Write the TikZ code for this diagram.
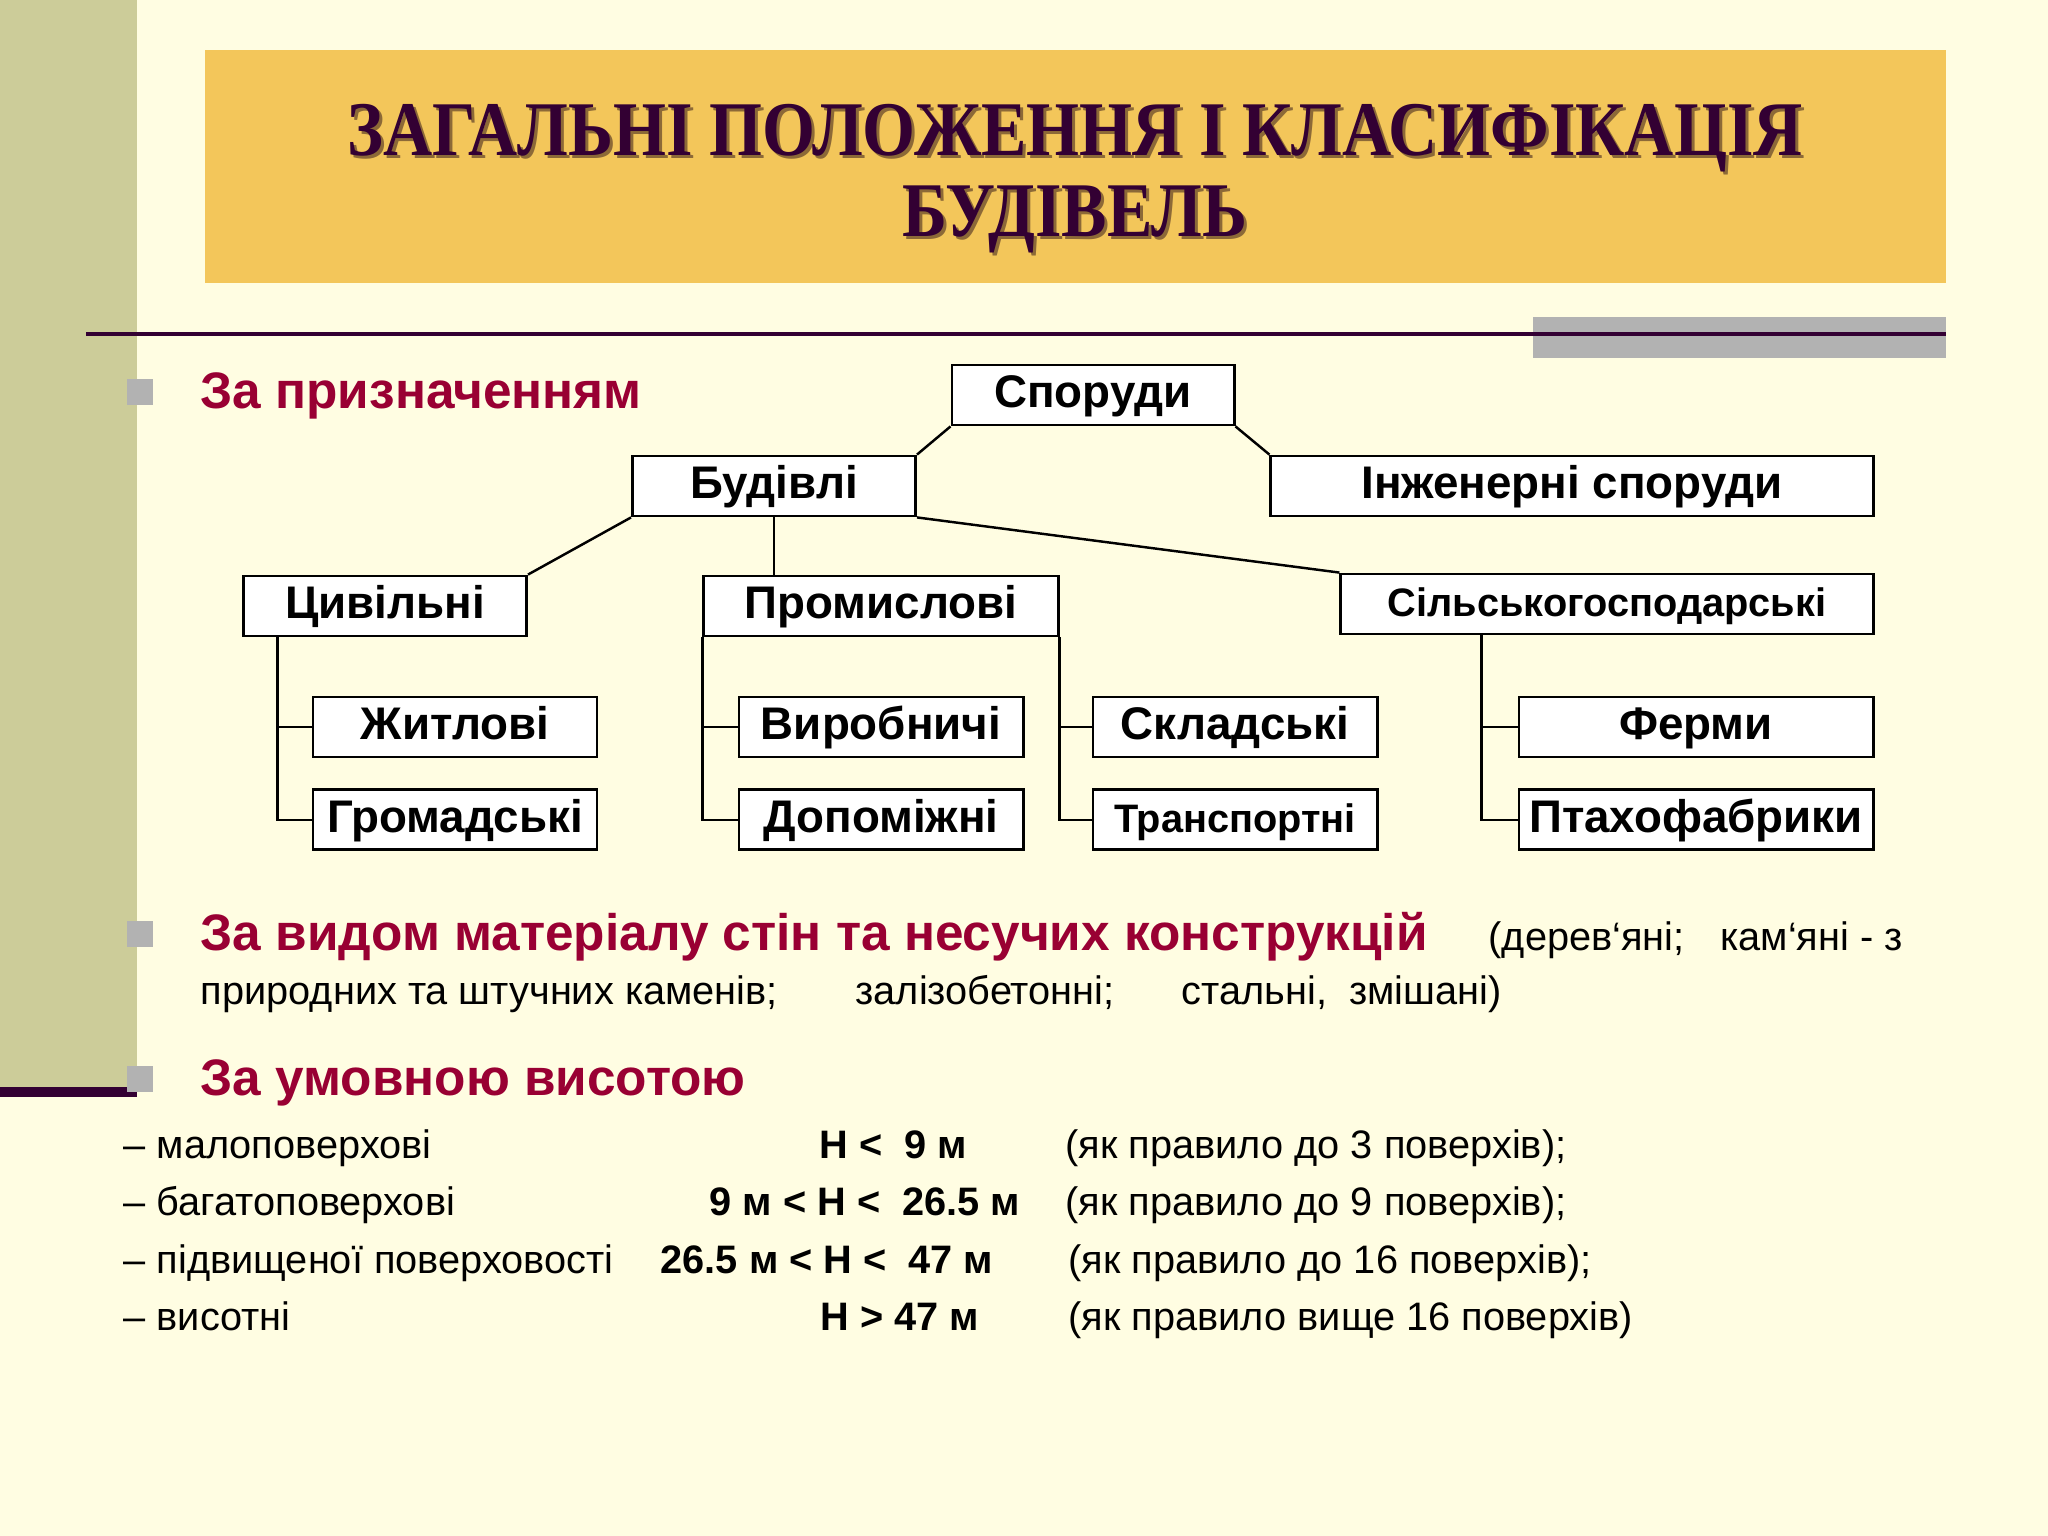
\documentclass[tikz,border=0pt]{standalone}
\usepackage{fontspec}
\setmainfont{Liberation Sans}
\newfontfamily\titlefont[FakeStretch=0.88]{Liberation Serif}
\usetikzlibrary{positioning}
\definecolor{cream}{RGB}{255,253,226}
\definecolor{khaki}{RGB}{204,204,153}
\definecolor{gold}{RGB}{243,198,90}
\definecolor{plum}{RGB}{51,0,51}
\definecolor{wine}{RGB}{153,0,51}
\definecolor{midgray}{RGB}{178,178,178}
\definecolor{shade}{RGB}{140,105,55}

\begin{document}
\begin{tikzpicture}[x=0.01cm,y=-0.01cm,
		box/.style={rectangle,draw,fill=white,line width=0.8pt,minimum height=0.6cm,inner sep=0pt,text height=0.73em,text depth=0pt,font=\bfseries\fontsize{13}{15}\selectfont},
		smallbox/.style={box,font=\bfseries\fontsize{11.3}{13}\selectfont},
		ttl/.style={align=center,inner sep=0pt,font=\titlefont\bfseries\fontsize{22}{23}\selectfont},
		head/.style={anchor=base west,inner sep=0pt,text=wine,font=\bfseries\fontsize{14.6}{17}\selectfont},
		txt/.style={anchor=base west,inner sep=0pt,font=\fontsize{11.3}{13}\selectfont},
		txtb/.style={txt,font=\bfseries\fontsize{11.3}{13}\selectfont},
		bullet/.style={rectangle,fill=midgray,minimum size=0.26cm,inner sep=0pt},
		link/.style={draw,line width=0.7pt}
		]
		
		\fill[cream] (0,0) rectangle (2048,1536);
		\fill[khaki] (0,0) rectangle (137,1087);
		\fill[plum] (0,1087) rectangle (137,1097);
		\fill[gold] (205,50) rectangle (1946,283);
		\fill[midgray] (1533,317) rectangle (1946,358);
		\draw[plum,line width=1.3pt] (86,334) -- (1946,334);
		
		\node [ttl,text=shade] (title shadow) at (1078,182) {ЗАГАЛЬНІ ПОЛОЖЕННЯ І КЛАСИФІКАЦІЯ\\БУДІВЕЛЬ};
		\node [ttl,text=plum] (title) at (1075,179) {ЗАГАЛЬНІ ПОЛОЖЕННЯ І КЛАСИФІКАЦІЯ\\БУДІВЕЛЬ};
		
		\node [bullet] (bullet purpose) at (140,392) {};
		\node [bullet] (bullet material) at (140,934) {};
		\node [bullet] (bullet height) at (140,1079) {};
		
		\node [head] (purpose) at (200,408) {За призначенням};
		\node [head] (material) at (200,950) {За видом матеріалу стін та несучих конструкцій};
		\node [txt] (material list) at (1488,950) {(дерев‘яні;\hspace{7pt} кам‘яні - з};
		\node [txt] (material list2) at (200,1004) {природних та штучних каменів;\hspace{19pt} залізобетонні;\hspace{16pt} стальні,\ \ змішані)};
		\node [head] (height) at (200,1095) {За умовною висотою};
		
		\node [txt] (low) at (123,1158) {– малоповерхові};
		\node [txtb] (low h) at (819,1158) {H <\ \ 9 м};
		\node [txt] (low note) at (1065,1158) {(як правило до 3 поверхів);};
		\node [txt] (multi) at (123,1215) {– багатоповерхові};
		\node [txtb] (multi h) at (709,1215) {9 м < H <\ \ 26.5 м};
		\node [txt] (multi note) at (1065,1215) {(як правило до 9 поверхів);};
		\node [txt] (raised) at (123,1273) {– підвищеної поверховості};
		\node [txtb] (raised h) at (660,1273) {26.5 м < H <\ \ 47 м};
		\node [txt] (raised note) at (1068,1273) {(як правило до 16 поверхів);};
		\node [txt] (tall) at (123,1330) {– висотні};
		\node [txtb] (tall h) at (820,1330) {H > 47 м};
		\node [txt] (tall note) at (1068,1330) {(як правило вище 16 поверхів)};
		
		\node [box,minimum width=2.82cm] (sporudy) at (1093,395) {Споруди};
		\node [box,minimum width=2.83cm] (budivli) at (774,486) {Будівлі};
		\node [box,minimum width=6.02cm] (inzhenerni) at (1572,486) {Інженерні споруди};
		\node [box,minimum width=2.83cm] (tsyvilni) at (385,606) {Цивільні};
		\node [box,minimum width=3.54cm] (promyslovi) at (881,606) {Промислові};
		\node [smallbox,minimum width=5.32cm] (silskohosp) at (1607,604) {Сільськогосподарські};
		\node [box,minimum width=2.84cm] (zhytlovi) at (455,727) {Житлові};
		\node [box,minimum width=2.84cm,below=0.3cm of zhytlovi] (hromadski) {Громадські};
		\node [box,minimum width=2.84cm] (vyrobnychi) at (881,727) {Виробничі};
		\node [box,minimum width=2.84cm,below=0.3cm of vyrobnychi] (dopomizhni) {Допоміжні};
		\node [box,minimum width=2.84cm] (skladski) at (1235,727) {Складські};
		\node [smallbox,minimum width=2.84cm,below=0.3cm of skladski] (transportni) {Транспортні};
		\node [box,minimum width=3.54cm] (fermy) at (1696,727) {Ферми};
		\node [box,minimum width=3.54cm,below=0.3cm of fermy] (ptakhofabryky) {Птахофабрики};
		
		\coordinate (tsyvilni trunk) at ([xshift=0.355cm]tsyvilni.south west);
		\coordinate (silskohosp trunk) at ([xshift=1.42cm]silskohosp.south west);
		
		\path [link] (sporudy.south west) -- (budivli.north east);
		\path [link] (sporudy.south east) -- (inzhenerni.north west);
		\path [link] (budivli.south west) -- (tsyvilni.north east);
		\path [link] (budivli.south) -- (budivli.south |- promyslovi.north);
		\path [link] (budivli.south east) -- (silskohosp.north west);
		\path [link] (tsyvilni trunk) |- (zhytlovi.west);
		\path [link] (tsyvilni trunk) |- (hromadski.west);
		\path [link] (promyslovi.south west) |- (vyrobnychi.west);
		\path [link] (promyslovi.south west) |- (dopomizhni.west);
		\path [link] (promyslovi.south east) |- (skladski.west);
		\path [link] (promyslovi.south east) |- (transportni.west);
		\path [link] (silskohosp trunk) |- (fermy.west);
		\path [link] (silskohosp trunk) |- (ptakhofabryky.west);
		
	\end{tikzpicture}
\end{document}
